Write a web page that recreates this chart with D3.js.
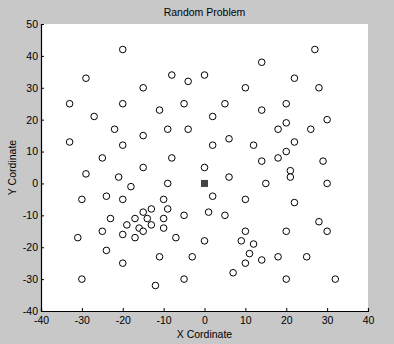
<!DOCTYPE html>
<html><head><meta charset="utf-8">
<script src="https://cdn.jsdelivr.net/npm/d3@7"></script>
<style>html,body{margin:0;padding:0;background:#c8c8c8;}svg{display:block;}</style>
</head><body>
<script>
const xs = [-20,27,14,-29,-8,0,-4,22,-15,10,28,-33,-20,-5,5,20,-27,-11,2,14,30,20,-22,-9,-4,18,26,-15,6,-33,-20,2,12,22,20,-25,-8,18,14,29,-15,0,21,-29,-21,6,21,-18,-9,15,30,-30,-24,-20,-10,2,10,-15,-13,-9,1,-23,-17,-14,-10,-5,5,22,-19,-13,-16,-15,-10,-25,28,10,20,30,-31,-20,-17,-7,0,9,12,-24,11,-11,-3,18,25,14,-20,10,7,-30,-5,20,32,-12];
const ys = [42,42,38,33,34,34,32,33,30,30,30,25,25,25,25,25,21,23,21,23,20,19,17,17,17,17,17,15,14,13,12,12,12,13,10,8,8,8,7,7,5,5,4,3,2,2,2,-1,0,0,0,-5,-4,-5,-5,-4,-5,-9,-8,-8,-9,-11,-11,-11,-11,-10,-10,-6,-13,-13,-14,-15,-14,-15,-12,-15,-15,-15,-17,-16,-17,-17,-18,-18,-19,-21,-22,-23,-23,-23,-23,-24,-25,-25,-28,-30,-30,-30,-30,-32];
const depot = [0, 0];
const xTicks = [-40,-30,-20,-10,0,10,20,30,40];
const yTicks = [-40,-30,-20,-10,0,10,20,30,40,50];

const W = 394, H = 344;
const m = {left: 41, right: 26, top: 24, bottom: 33};
const svg = d3.select("body").append("svg").attr("width", W).attr("height", H);
svg.append("rect").attr("width", W).attr("height", H).attr("fill", "#c8c8c8");
const iw = W - m.left - m.right, ih = H - m.top - m.bottom;
const x = d3.scaleLinear().domain([-40, 40]).range([m.left, m.left + iw]);
const y = d3.scaleLinear().domain([-40, 50]).range([m.top + ih, m.top]);

svg.append("rect").attr("x", m.left).attr("y", m.top).attr("width", iw).attr("height", ih).attr("fill", "#fff");

const font = "Liberation Sans, Arial, sans-serif";
const gx = svg.append("g").attr("transform", `translate(0,${m.top + ih})`)
  .call(d3.axisBottom(x).tickValues(xTicks).tickSize(-3).tickPadding(4).tickFormat(d3.format("d")));
const gy = svg.append("g").attr("transform", `translate(${m.left},0)`)
  .call(d3.axisLeft(y).tickValues(yTicks).tickSize(-3).tickPadding(3).tickFormat(d3.format("d")));
[gx, gy].forEach(g => {
  g.select(".domain").attr("stroke", "#000").attr("stroke-width", 1.2);
  g.selectAll(".tick line").attr("stroke", "#000");
  g.selectAll(".tick text").attr("fill", "#000").style("font-family", font).style("font-size", "10.5px")
    .text(d => String(d).replace("-", "-"));
});
gx.selectAll(".tick text").attr("dy", "0.9em");

svg.append("g").selectAll("circle").data(xs.map((v, i) => [v, ys[i]])).join("circle")
  .attr("cx", d => x(d[0])).attr("cy", d => y(d[1])).attr("r", 3.3)
  .attr("fill", "#fff").attr("stroke", "#000").attr("stroke-width", 1);

svg.append("rect").attr("x", x(depot[0]) - 3.5).attr("y", y(depot[1]) - 3.5)
  .attr("width", 7).attr("height", 7).attr("fill", "#444");

svg.append("text").attr("x", m.left + iw / 2).attr("y", 16).attr("text-anchor", "middle")
  .style("font-family", font).style("font-size", "10.5px").text("Random Problem");
svg.append("text").attr("x", m.left + iw / 2).attr("y", 338).attr("text-anchor", "middle")
  .style("font-family", font).style("font-size", "10.5px").text("X Cordinate");
svg.append("text").attr("transform", `translate(16,${m.top + ih / 2}) rotate(-90)`).attr("text-anchor", "middle")
  .style("font-family", font).style("font-size", "10.5px").text("Y Cordinate");
</script>
</body></html>
